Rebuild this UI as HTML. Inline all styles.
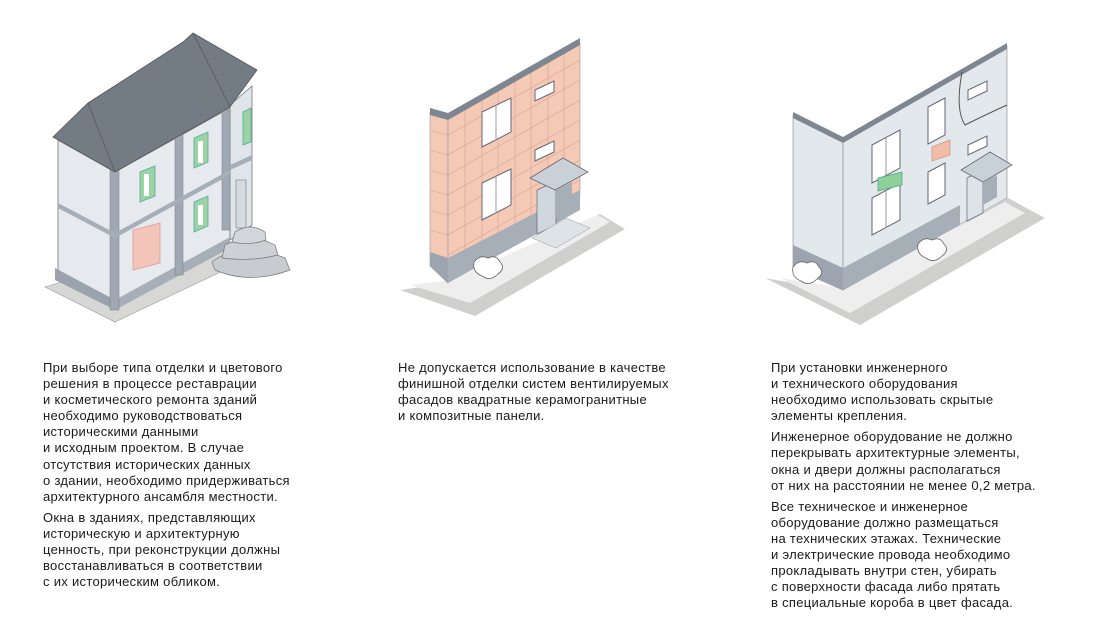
<!DOCTYPE html>
<html><head><meta charset="utf-8"><style>
body{margin:0;width:1118px;height:632px;background:#fff;position:relative;overflow:hidden;font-family:"Liberation Sans",sans-serif;}
.t{position:absolute;font-size:13px;letter-spacing:0.3px;line-height:16.1px;color:#1a1a1a;white-space:nowrap;}
.t p{margin:0 0 5px 0;}
svg{position:absolute;left:0;top:0}
</style></head><body>
<svg width="1118" height="340" viewBox="0 0 1118 340">
<!-- Building 1 -->
<polygon points="45,287 115,322 250,258 205,240" fill="#d7d8d6" stroke="#999" stroke-width="0.6"/>
<polygon points="58,140 115,172 115,305 58,272" fill="#e6eaee" stroke="#777" stroke-width="0.8"/>
<polygon points="115,172 230,108 230,240 115,305" fill="#e6eaee" stroke="#777" stroke-width="0.8"/>
<polygon points="230,105 252,86 252,225 230,240" fill="#e0e5ea" stroke="#777" stroke-width="0.8"/>
<polygon points="55,268 115,300 115,310 55,280" fill="#9aa3ad"/>
<polygon points="115,300 230,237 230,248 115,310" fill="#a6aeb8"/>
<rect x="110" y="170" width="9" height="140" fill="#a0a9b3" stroke="#778" stroke-width="0.5"/>
<rect x="175" y="135" width="8" height="140" fill="#a0a9b3" stroke="#778" stroke-width="0.5"/>
<rect x="222" y="110" width="8" height="120" fill="#a0a9b3" stroke="#778" stroke-width="0.5"/>
<polygon points="58,203 115,233 115,238 58,208" fill="#a6aeb8"/>
<polygon points="115,233 230,170 230,175 115,238" fill="#a6aeb8"/>
<polygon points="230,165 252,155 252,160 230,170" fill="#a6aeb8"/>
<polygon points="53,137 88,103 183,42 193,33 257,70 230,107 115,172" fill="#737b85" stroke="#555" stroke-width="0.8"/>
<line x1="88" y1="103" x2="115" y2="172" stroke="#555" stroke-width="0.7"/>
<line x1="193" y1="33" x2="230" y2="107" stroke="#555" stroke-width="0.7"/>
<polygon points="140,172 155,166 155,196 140,202" fill="#9bd3a5" stroke="#5a9" stroke-width="0.8"/>
<rect x="144" y="174" width="5" height="22" fill="#fff"/>
<polygon points="194,138 208,132 208,162 194,168" fill="#9bd3a5" stroke="#5a9" stroke-width="0.8"/>
<rect x="198" y="141" width="5" height="22" fill="#fff"/>
<polygon points="194,202 208,196 208,226 194,232" fill="#9bd3a5" stroke="#5a9" stroke-width="0.8"/>
<rect x="198" y="205" width="5" height="20" fill="#fff"/>
<polygon points="243,112 251,108 251,142 243,145" fill="#9bd3a5" stroke="#5a9" stroke-width="0.8"/>
<polygon points="133,230 160,223 160,263 133,270" fill="#f2c5b8" stroke="#d99" stroke-width="0.8"/>
<rect x="236" y="180" width="10" height="48" fill="#d5dbe0" stroke="#777" stroke-width="0.6"/>
<path d="M212,262 Q240,240 285,258 L290,270 Q250,285 215,270 Z" fill="#c8ccd0" stroke="#777" stroke-width="0.7"/>
<path d="M225,245 Q250,232 275,245 L278,255 Q250,262 222,258 Z" fill="#cdd1d5" stroke="#777" stroke-width="0.7"/>
<path d="M235,232 Q250,222 265,232 L266,240 Q250,246 232,242 Z" fill="#d3d7db" stroke="#777" stroke-width="0.7"/>
<!-- Building 2 -->
<polygon points="400,290 475,316 625,229 600,214 450,283" fill="#cfd0ce"/>
<polygon points="410,285 470,303 610,222 598,215 450,280" fill="#eeeeee"/>
<polygon points="430,112 448,117 448,283 430,266" fill="#f4c9b6" stroke="#999" stroke-width="0.6"/>
<polygon points="448,117 580,43 580,195 448,270" fill="#f4c9b6" stroke="#999" stroke-width="0.6"/>
<g stroke="#d4a392" stroke-width="0.6">
<line x1="448" y1="135" x2="580" y2="60"/><line x1="448" y1="155" x2="580" y2="80"/><line x1="448" y1="175" x2="580" y2="100"/><line x1="448" y1="195" x2="580" y2="120"/><line x1="448" y1="215" x2="580" y2="140"/><line x1="448" y1="235" x2="580" y2="160"/><line x1="448" y1="255" x2="580" y2="180"/>
<line x1="465" y1="108" x2="465" y2="262"/><line x1="482" y1="98" x2="482" y2="252"/><line x1="498" y1="89" x2="498" y2="242"/><line x1="515" y1="80" x2="515" y2="233"/><line x1="531" y1="71" x2="531" y2="224"/><line x1="548" y1="62" x2="548" y2="215"/><line x1="564" y1="52" x2="564" y2="205"/>
<line x1="430" y1="130" x2="448" y2="135"/><line x1="430" y1="150" x2="448" y2="155"/><line x1="430" y1="170" x2="448" y2="175"/><line x1="430" y1="190" x2="448" y2="195"/><line x1="430" y1="210" x2="448" y2="215"/><line x1="430" y1="230" x2="448" y2="235"/>
</g>
<polygon points="430,108 448,113 580,38 580,45 448,120 430,115" fill="#7d8691"/>
<polygon points="430,252 448,258 448,283 430,266" fill="#9ca5af"/>
<polygon points="448,258 580,190 580,210 448,283" fill="#a6aeb8"/>
<polygon points="482,112 511,98 511,132 482,147" fill="#fff" stroke="#667" stroke-width="1"/>
<line x1="496" y1="105" x2="496" y2="140" stroke="#999"/>
<polygon points="482,183 511,169 511,205 482,220" fill="#fff" stroke="#667" stroke-width="1"/>
<line x1="496" y1="176" x2="496" y2="213" stroke="#999"/>
<polygon points="535,90 554,81 554,92 535,101" fill="#fff" stroke="#667" stroke-width="1"/>
<polygon points="535,150 554,141 554,152 535,161" fill="#fff" stroke="#667" stroke-width="1"/>
<polygon points="537,190 556,181 556,225 537,234" fill="#cfd8de" stroke="#667" stroke-width="0.7"/>
<polygon points="530,178 555,190 588,172 563,158" fill="#c9d1d8" stroke="#667" stroke-width="0.8"/>
<polygon points="556,190 556,218 572,210 572,182" fill="#a6aeb8"/>
<polygon points="532,238 556,248 590,228 566,218" fill="#dde3e7" stroke="#999" stroke-width="0.5"/>
<path d="M474,262 q6,-8 14,-4 q8,-4 12,4 q6,6 -2,12 q-8,8 -16,2 q-10,-4 -8,-14z" fill="#fff" stroke="#666" stroke-width="0.8"/>
<!-- Building 3 -->
<polygon points="765,278 860,325 1045,218 1008,198 843,292" fill="#cfd0ce"/>
<polygon points="780,278 850,313 1025,213 1005,202 843,288" fill="#eeeeee"/>
<polygon points="793,115 843,140 843,290 793,268" fill="#e3e8ec" stroke="#888" stroke-width="0.6"/>
<polygon points="843,140 1007,46 1007,198 843,290" fill="#e3e8ec" stroke="#888" stroke-width="0.6"/>
<polygon points="793,112 843,137 1007,43 1007,49 843,143 793,118" fill="#7d8691"/>
<polygon points="793,245 843,268 843,290 793,268" fill="#9ca5af"/>
<polygon points="843,268 960,205 960,225 843,290" fill="#a6aeb8"/>
<path d="M962,72 Q955,110 965,125 Q985,115 1007,105" fill="none" stroke="#555" stroke-width="1"/>
<polygon points="872,145 900,130 900,168 872,183" fill="#fff" stroke="#667" stroke-width="1"/>
<line x1="886" y1="138" x2="886" y2="176" stroke="#999"/>
<polygon points="872,198 900,183 900,220 872,235" fill="#fff" stroke="#667" stroke-width="1"/>
<line x1="886" y1="191" x2="886" y2="228" stroke="#999"/>
<polygon points="928,107 945,98 945,135 928,144" fill="#fff" stroke="#667" stroke-width="1"/>
<polygon points="928,172 945,163 945,195 928,204" fill="#fff" stroke="#667" stroke-width="1"/>
<polygon points="968,90 987,81 987,91 968,100" fill="#fff" stroke="#667" stroke-width="1"/>
<polygon points="968,145 987,136 987,146 968,155" fill="#fff" stroke="#667" stroke-width="1"/>
<polygon points="878,178 902,172 902,185 878,191" fill="#8fd09a" stroke="#4a8" stroke-width="0.8"/>
<polygon points="932,147 950,140 950,155 932,161" fill="#f2bca8" stroke="#c98" stroke-width="0.8"/>
<polygon points="967,178 983,170 983,213 967,221" fill="#dde3e7" stroke="#667" stroke-width="0.7"/>
<polygon points="961,170 983,182 1012,165 990,152" fill="#c9d1d8" stroke="#667" stroke-width="0.8"/>
<polygon points="983,182 983,205 997,197 997,175" fill="#a6aeb8"/>
<path d="M918,244 q6,-8 14,-4 q8,-4 12,4 q6,6 -2,12 q-8,8 -16,2 q-10,-4 -8,-14z" fill="#fff" stroke="#666" stroke-width="0.8"/>
<path d="M793,267 q6,-8 14,-4 q8,-4 12,4 q6,6 -2,12 q-8,8 -16,2 q-10,-4 -8,-14z" fill="#fff" stroke="#666" stroke-width="0.8"/>
</svg>
<div class="t" style="left:43px;top:360px;">
<p>При выборе типа отделки и цветового<br>решения в процессе реставрации<br>и косметического ремонта зданий<br>необходимо руководствоваться<br>историческими данными<br>и исходным проектом. В случае<br>отсутствия исторических данных<br>о здании, необходимо придерживаться<br>архитектурного ансамбля местности.</p>
<p>Окна в зданиях, представляющих<br>историческую и архитектурную<br>ценность, при реконструкции должны<br>восстанавливаться в соответствии<br>с их историческим обликом.</p>
</div>
<div class="t" style="left:398px;top:360px;">
<p>Не допускается использование в качестве<br>финишной отделки систем вентилируемых<br>фасадов квадратные керамогранитные<br>и композитные панели.</p>
</div>
<div class="t" style="left:771px;top:360px;">
<p>При установки инженерного<br>и технического оборудования<br>необходимо использовать скрытые<br>элементы крепления.</p>
<p>Инженерное оборудование не должно<br>перекрывать архитектурные элементы,<br>окна и двери должны располагаться<br>от них на расстоянии не менее 0,2 метра.</p>
<p>Все техническое и инженерное<br>оборудование должно размещаться<br>на технических этажах. Технические<br>и электрические провода необходимо<br>прокладывать внутри стен, убирать<br>с поверхности фасада либо прятать<br>в специальные короба в цвет фасада.</p>
</div>
</body></html>
